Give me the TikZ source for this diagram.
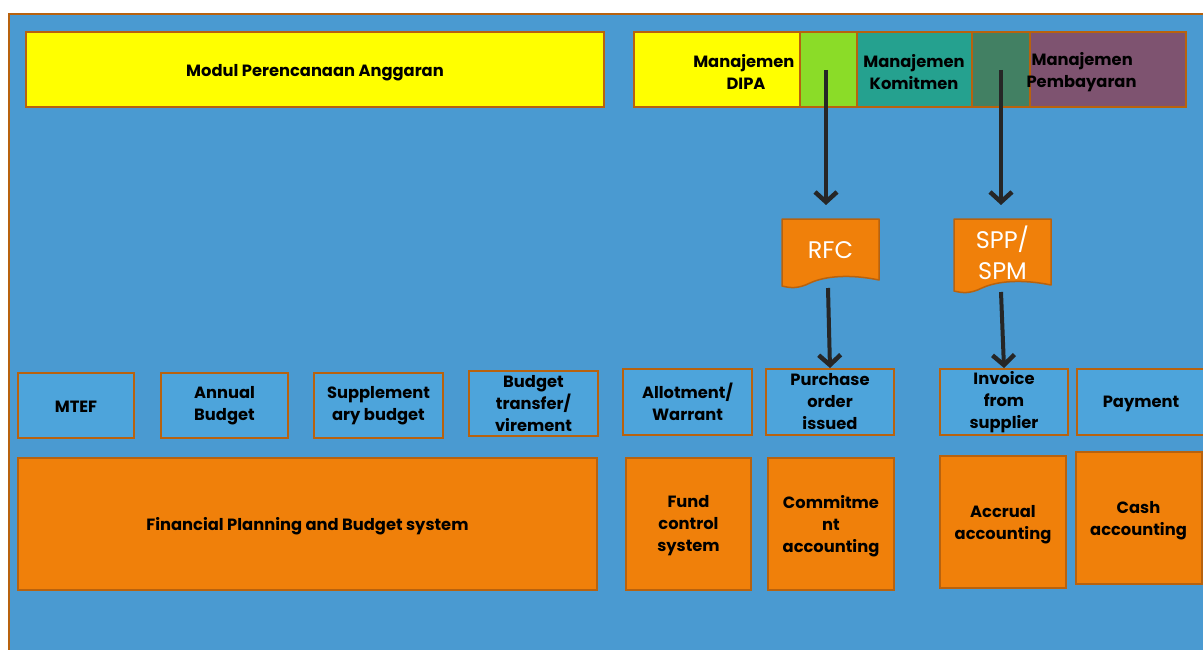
\documentclass[tikz,border=0pt]{standalone}
\usepackage{fontspec}
\setmainfont{Poppins}
\usetikzlibrary{arrows.meta}

\definecolor{bgblue}{HTML}{4A9AD1}
\definecolor{boxblue}{HTML}{4DA4DB}
\definecolor{rim}{HTML}{B8620E}
\definecolor{orng}{HTML}{F0800A}
\definecolor{ylw}{HTML}{FFFF00}
\definecolor{lgreen}{HTML}{8BDC28}
\definecolor{teal}{HTML}{25A18F}
\definecolor{dgreen}{HTML}{428063}
\definecolor{plum}{HTML}{7E5370}
\definecolor{ink}{HTML}{262626}

\tikzset{
  lbl/.style={font=\bfseries\fontsize{16.3}{22}\selectfont, text=black, align=center},
  blockbase/.style={draw=rim, line width=2pt, inner sep=0pt, lbl},
  bluebox/.style={blockbase, fill=boxblue},
  orangebox/.style={blockbase, fill=orng},
  segment/.style={draw=rim, line width=2pt},
  flow/.style={draw=ink, line width=4pt, -{Straight Barb[length=10pt,width=22pt,line width=4.5pt]}},
  docshape/.style={fill=orng, draw=rim, line width=1.5pt, line join=round},
  doctext/.style={font=\fontsize{24}{31}\selectfont, text=white, align=center}
}

\begin{document}
\begin{tikzpicture}[x=1pt, y=-1pt]
  \useasboundingbox (0,0) rectangle (1203,650);
  \fill[white] (0,0) rectangle (1203,650);
  \begin{scope}
    \clip (0,0) rectangle (1203,650);
    % outer panel
    \draw[fill=bgblue, draw=rim, line width=2pt] (9,14) rectangle (1215,665);

    % budget planning module
    \draw[segment, fill=ylw] (26,32) rectangle (604,107);
    \node[lbl] (modul) at (315,73) {Modul Perencanaan Anggaran};

    % execution modules bar
    \draw[segment, fill=ylw]    (634,32) rectangle (800,107);
    \draw[segment, fill=lgreen] (800,32) rectangle (857,107);
    \draw[segment, fill=teal]   (857,32) rectangle (972,107);
    \draw[segment, fill=dgreen] (972,32) rectangle (1030,107);
    \draw[segment, fill=plum]   (1030,32) rectangle (1186,107);
    \node[lbl, align=right, anchor=east] (dipa) at (798,72) {Manajemen\\DIPA\hspace*{29pt}};
    \node[lbl] (komit) at (914,72) {Manajemen\\Komitmen};
    \node[lbl, align=left, anchor=west] (bayar) at (1023,72) {\hspace*{5pt}Manajemen\\Pembayaran};
    \coordinate (srcA) at (826,70);
    \coordinate (srcB) at (1001,70);

    % documents
    \draw[docshape] (782,219) -- (879,219) -- (879,280)
      .. controls (850,274) and (825,276) .. (810,283)
      .. controls (798,289) and (790,288) .. (782,286) -- cycle;
    \node[doctext] (rfc) at (830.5,250) {RFC};
    \coordinate (rfcB) at (828,288);
    \draw[docshape] (954,219) -- (1051,219) -- (1051,285)
      .. controls (1022,279) and (997,281) .. (982,288)
      .. controls (970,294) and (962,293) .. (954,291) -- cycle;
    \node[doctext] (spp) at (1002.5,253) {SPP/\\SPM};
    \coordinate (sppB) at (1001,292);
    \coordinate (rfcT) at (826,205);
    \coordinate (sppT) at (1001,205);

    % transaction stages
    \node[bluebox, minimum width=116pt, minimum height=65pt] (mtef)  at (76,405.5) {};
    \node[lbl] at (76,407) {MTEF};
    \node[bluebox, minimum width=127pt, minimum height=65pt] (annual) at (224.5,405.5) {Annual\\Budget};
    \node[bluebox, minimum width=129pt, minimum height=65pt] (supp)  at (378.5,405.5) {Supplement\\ary budget};
    \node[bluebox, minimum width=129pt, minimum height=65pt] (vire)  at (533.5,403.5) {Budget\\transfer/\\virement};
    \node[bluebox, minimum width=129pt, minimum height=66pt] (allot) at (687.5,402) {Allotment/\\Warrant};
    \node[bluebox, minimum width=128pt, minimum height=66pt] (po)    at (830,402) {Purchase\\order\\issued};
    \node[bluebox, minimum width=128pt, minimum height=66pt] (inv)   at (1004,402) {Invoice\\from\\supplier};
    \node[bluebox, minimum width=140pt, minimum height=66pt] (pay)   at (1147,402) {};
    \node[lbl] (paytxt) at (1141,404) {Payment};

    % accounting systems
    \node[orangebox, minimum width=579pt, minimum height=132pt] (fpbs) at (307.5,524) {};
    \node[lbl] (fpbstxt) at (307.5,526.5) {Financial Planning and Budget system};
    \node[orangebox, minimum width=125pt, minimum height=132pt] (fund) at (688.5,524) {};
    \node[lbl] at (688.5,526) {Fund\\control\\system};
    \node[orangebox, minimum width=126pt, minimum height=132pt] (commit) at (831,524) {};
    \node[lbl] at (831,526) {Commitme\\nt\\accounting};
    \node[orangebox, minimum width=126pt, minimum height=132pt] (accr) at (1003,522) {};
    \node[lbl] at (1003,524.5) {Accrual\\accounting};
    \node[orangebox, minimum width=126pt, minimum height=132pt] (cash) at (1138.5,518) {};
    \node[lbl] at (1138.5,520.5) {Cash\\accounting};

    % flows
    \draw[flow] (srcA) -- (rfcT);
    \draw[flow] (srcB) -- (sppT);
    \draw[flow] (rfcB) -- (po.north);
    \draw[flow] (sppB) -- (inv.north);
  \end{scope}
\end{tikzpicture}
\end{document}
